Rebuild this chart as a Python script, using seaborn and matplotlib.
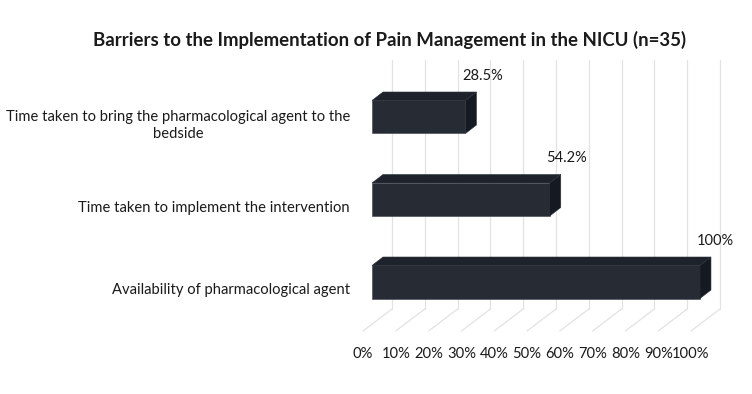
import matplotlib.pyplot as plt
import seaborn as sns
from matplotlib.patches import Polygon

categories = [
    "Time taken to bring the pharmacological agent to the\nbedside",
    "Time taken to implement the intervention",
    "Availability of pharmacological agent",
]
values = [28.5, 54.2, 100]
value_labels = ["28.5%", "54.2%", "100%"]
tick_values = [0, 10, 20, 30, 40, 50, 60, 70, 80, 90, 100]
tick_labels = [f"{t}%" for t in tick_values]

front_color = "#252a35"
top_color = "#1e222b"
side_color = "#151a22"
grid_color = "#e2e2e2"

sns.set_style("white")
plt.rcParams["font.family"] = ["Lato", "DejaVu Sans"]

fig = plt.figure(figsize=(7.52, 3.94), dpi=100)
# axes placed in pixel terms: 356..740 horizontally, 50..340 vertically
ax = fig.add_axes([356 / 752, 54 / 394, 384 / 752, 290 / 394])

sns.barplot(x=values, y=categories, orient="h", width=0.4, color=front_color,
            edgecolor="#3a404c", linewidth=0.4, ax=ax, zorder=3)

ax.set_xlim(-4.88, 112.2)
ax.set_ylim(2.703, -0.812)

# 3d-ish depth of the bars
dx, dy = 3.35, -0.103
for p in ax.patches[:]:
    x0, y0 = p.get_x(), p.get_y()
    w, h = p.get_width(), p.get_height()
    ytop, ybot = min(y0, y0 + h), max(y0, y0 + h)
    top = Polygon([(x0, ytop), (x0 + w, ytop), (x0 + w + dx, ytop + dy), (x0 + dx, ytop + dy)],
                  closed=True, facecolor=top_color, edgecolor="#2c313b", linewidth=0.4, zorder=3)
    side = Polygon([(x0 + w, ytop), (x0 + w, ybot), (x0 + w + dx, ybot + dy), (x0 + w + dx, ytop + dy)],
                   closed=True, facecolor=side_color, edgecolor="#2c313b", linewidth=0.4, zorder=3)
    ax.add_patch(top)
    ax.add_patch(side)

# back wall gridlines and floor diagonals
back_off, front_off = 6.1, -2.74
floor_back, floor_front, wall_top = 2.327, 2.594, -0.69
for t in tick_values:
    ax.plot([t + back_off, t + back_off], [wall_top, floor_back], color=grid_color, lw=0.9, zorder=1)
    ax.plot([t + back_off, t + front_off], [floor_back, floor_front], color=grid_color, lw=0.9, zorder=1)

# data labels
for i, (v, lab) in enumerate(zip(values, value_labels)):
    ax.text(v - 1.0, i - 0.5, lab, ha="left", va="center", fontsize=10.5, color="#1a1a1a")

# category labels
for i, c in enumerate(categories):
    ax.text(-6.7, i + 0.1, c, ha="right", va="center", multialignment="center",
            fontsize=10.6, color="#1a1a1a", linespacing=1.3, clip_on=False)

ax.set_xticks([t + front_off for t in tick_values])
ax.set_xticklabels(tick_labels, fontsize=10.6, color="#1a1a1a")
ax.tick_params(axis="x", length=0, pad=5)
ax.set_yticks([])
ax.set_xlabel("")
ax.set_ylabel("")
for s in ax.spines.values():
    s.set_visible(False)

fig.text(390 / 752, 1 - 40 / 394, "Barriers to the Implementation of Pain Management in the NICU (n=35)",
         ha="center", va="center", fontsize=13.4, fontweight="bold", color="#1a1a1a")

fig.savefig("out.png", dpi=100, facecolor="white")
